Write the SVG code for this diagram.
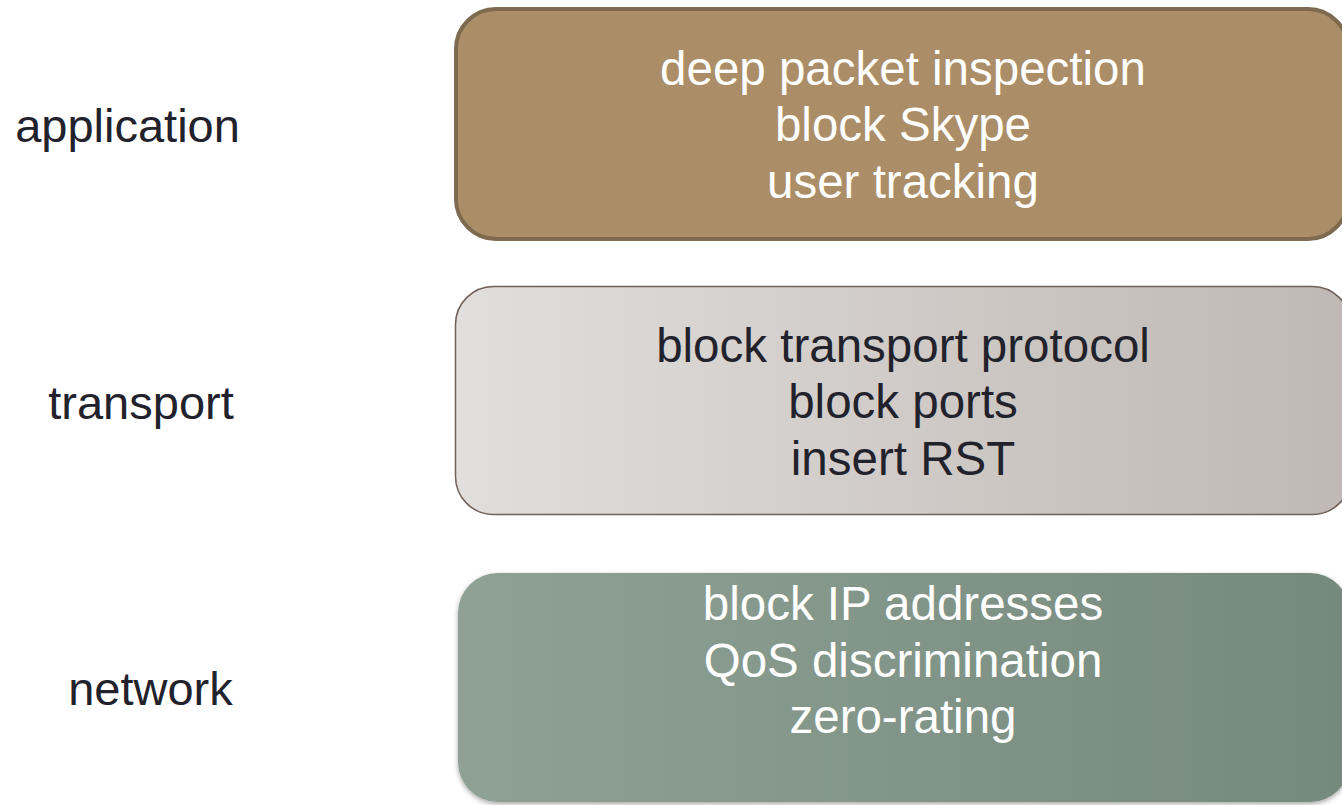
<svg xmlns="http://www.w3.org/2000/svg" width="1342" height="805" viewBox="0 0 1342 805">
<style>
text{font-family:"Liberation Sans",Arial,sans-serif;font-size:47px;text-anchor:middle}
.lbl{fill:#22222c}
.dark{fill:#22222c;font-size:47.5px}
.light{fill:#ffffff;font-size:47.5px}
</style>
<defs>
<linearGradient id="g2" x1="0" y1="0" x2="1" y2="0">
<stop offset="0" stop-color="#e1dedb"/>
<stop offset="1" stop-color="#bfb8b4"/>
</linearGradient>
<linearGradient id="g3" x1="0" y1="0" x2="1" y2="0">
<stop offset="0" stop-color="#8fa195"/>
<stop offset="1" stop-color="#76897d"/>
</linearGradient>
<filter id="sh" x="-5%" y="-10%" width="110%" height="120%">
<feDropShadow dx="0" dy="2" stdDeviation="2.5" flood-color="#000" flood-opacity="0.35"/>
</filter>
</defs>
<g id="labels">
<text class="lbl" x="127.5" y="142">application</text>
<text class="lbl" x="141" y="419">transport</text>
<text class="lbl" x="150.5" y="705">network</text>
</g>
<g id="application">
<rect x="456" y="9" width="892" height="230" rx="40" fill="#ab8e68" stroke="#7e6a4e" stroke-width="4"/>
<text class="light" x="903" y="85">deep packet inspection</text>
<text class="light" x="903" y="141">block Skype</text>
<text class="light" x="903" y="198">user tracking</text>
</g>
<g id="transport">
<rect x="455.5" y="286.5" width="895" height="228" rx="38" fill="url(#g2)" stroke="#6f6058" stroke-width="1.5"/>
<text class="dark" x="903" y="362">block transport protocol</text>
<text class="dark" x="903" y="418">block ports</text>
<text class="dark" x="903" y="475">insert RST</text>
</g>
<g id="network">
<rect x="458" y="573" width="892" height="229" rx="40" fill="url(#g3)" filter="url(#sh)"/>
<text class="light" x="903" y="620">block IP addresses</text>
<text class="light" x="903" y="677">QoS discrimination</text>
<text class="light" x="903" y="733">zero-rating</text>
</g>
<g id="connectors"></g>
</svg>
